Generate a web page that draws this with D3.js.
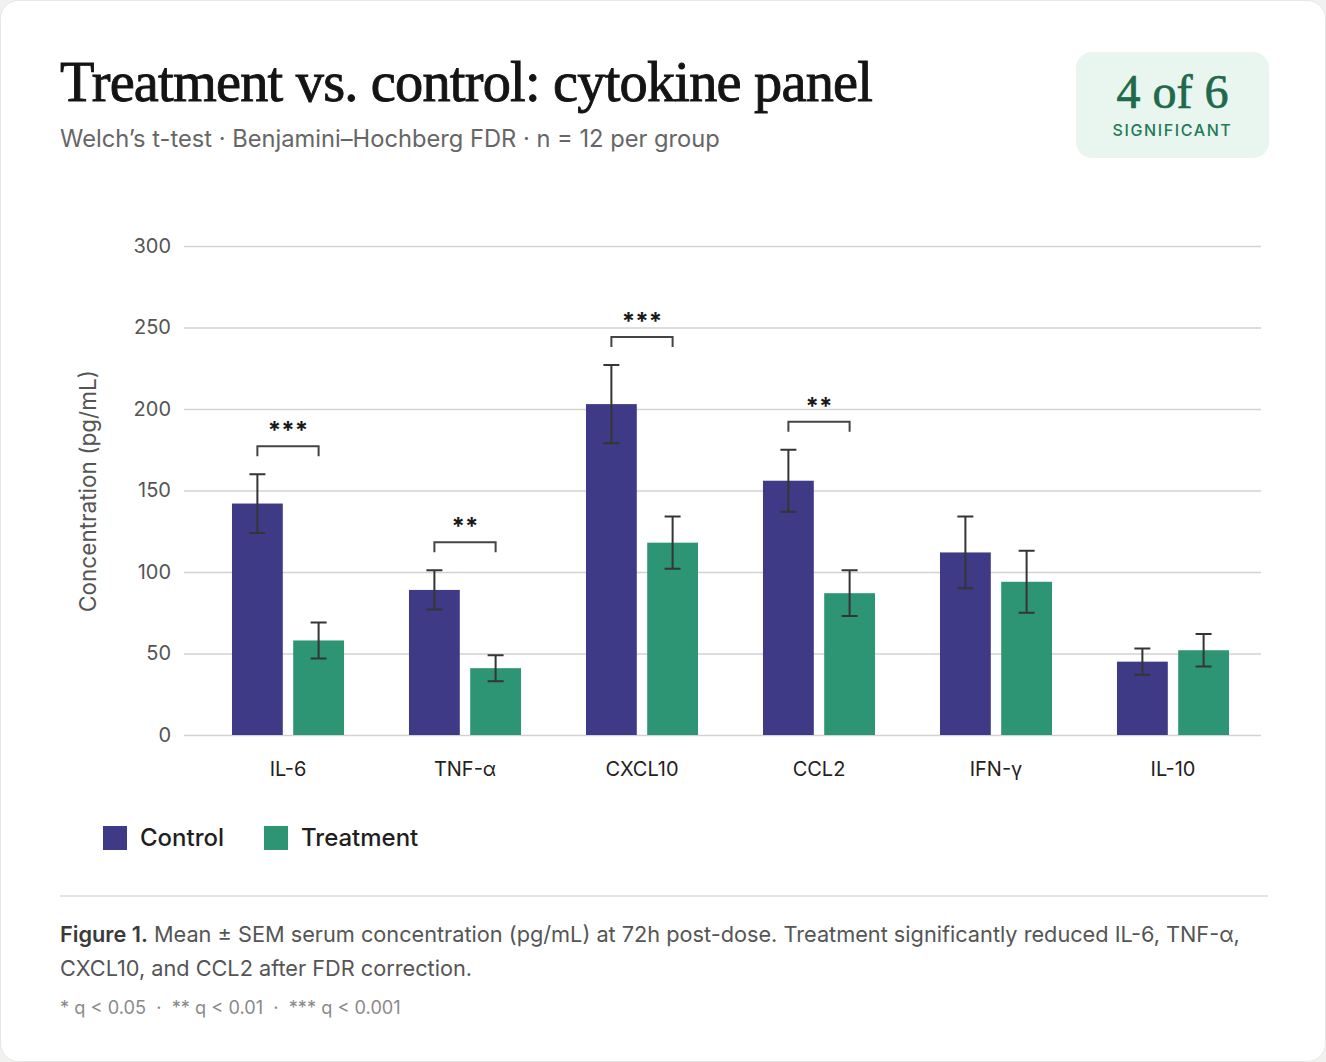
<!DOCTYPE html>
<html lang="en">
<head>
<meta charset="utf-8">
<title>Treatment vs. control: cytokine panel</title>
<style>
  body { margin: 0; background: #f1f1f0; }
  svg { display: block; }
</style>
</head>
<body>
<script src="https://d3js.org/d3.v7.min.js"></script>
<script>
// cytokines along the x axis
var cytokines = ["IL-6", "TNF-α", "CXCL10", "CCL2", "IFN-γ", "IL-10"];
var groups = ["Control", "Treatment"];
// mean concentration (pg/mL)
var controlMean = [142, 89, 203, 156, 112, 45];
var treatmentMean = [58, 41, 118, 87, 94, 52];
// SEM
var controlSem = [18, 12, 24, 19, 22, 8];
var treatmentSem = [11, 8, 16, 14, 19, 10];
// significance after FDR correction ("" = not significant)
var stars = ["***", "**", "***", "**", "", ""];
var yTicks = [0, 50, 100, 150, 200, 250, 300];

var W = 1326, H = 1062;
var sans = "Inter, 'Noto Sans', sans-serif";
var serif = "'Liberation Serif', 'DejaVu Serif', serif";
var colors = {Control: "#3e3a86", Treatment: "#2e9574"};

var svg = d3.select("body").append("svg")
  .attr("width", W)
  .attr("height", H);

// white card
svg.append("rect")
  .attr("x", 0.5).attr("y", 0.5)
  .attr("width", W - 1).attr("height", H - 1)
  .attr("rx", 18)
  .attr("fill", "#fff")
  .attr("stroke", "#e6e6e6");

// shrink / grow font-size so a text spans a given width
function fit(sel, width) {
  var fs = parseFloat(sel.attr("font-size"));
  var w = sel.node().getComputedTextLength();
  sel.attr("font-size", (fs * width / w).toFixed(2));
  return sel;
}

// title + subtitle (regular serif with a hairline stroke ~ medium weight)
fit(svg.append("text")
  .attr("x", 60).attr("y", 101)
  .attr("font-family", serif)
  .attr("font-size", 52)
  .attr("letter-spacing", -0.8)
  .attr("fill", "#141414")
  .attr("stroke", "#141414")
  .attr("stroke-width", 0.9)
  .text("Treatment vs. control: cytokine panel"), 810);

fit(svg.append("text")
  .attr("x", 60).attr("y", 147)
  .attr("font-family", sans)
  .attr("font-size", 23)
  .attr("fill", "#666")
  .text("Welch’s t-test · Benjamini–Hochberg FDR · n = 12 per group"), 660);

// badge
var nSig = stars.filter(function(s) { return s !== ""; }).length;
var badge = svg.append("g").attr("transform", "translate(1076,52)");
badge.append("rect")
  .attr("width", 193).attr("height", 106)
  .attr("rx", 16)
  .attr("fill", "#e9f6f0");
badge.append("text")
  .attr("x", 96.5).attr("y", 56)
  .attr("text-anchor", "middle")
  .attr("font-family", serif)
  .attr("font-size", 48)
  .attr("fill", "#1e6a4b")
  .attr("stroke", "#1e6a4b")
  .attr("stroke-width", 0.7)
  .text(nSig + " of " + cytokines.length);
badge.append("text")
  .attr("x", 96.5).attr("y", 84)
  .attr("text-anchor", "middle")
  .attr("font-family", sans)
  .attr("font-size", 16)
  .attr("font-weight", 500)
  .attr("letter-spacing", 1.6)
  .attr("fill", "#237a56")
  .text("SIGNIFICANT");

// scales
var y = d3.scaleLinear().domain([0, 300]).range([735, 246]);
var x0 = d3.scaleBand()
  .domain(cytokines)
  .range([199.5, 1261.5])
  .paddingInner(0.367)
  .paddingOuter(0.1835);
var x1 = d3.scaleBand()
  .domain(groups)
  .range([0, x0.bandwidth()])
  .paddingInner(0.17);

// grid + y axis
var yAxis = svg.append("g")
  .attr("transform", "translate(184,0)")
  .call(d3.axisLeft(y).tickValues(yTicks).tickSize(-(1261 - 184)).tickPadding(13));
yAxis.select(".domain").remove();
yAxis.selectAll("line").attr("stroke", "#d2d2d0").attr("stroke-width", 1.6);
yAxis.selectAll("text")
  .attr("font-family", sans)
  .attr("font-size", 20)
  .attr("fill", "#555");

fit(svg.append("text")
  .attr("transform", "translate(96,491) rotate(-90)")
  .attr("text-anchor", "middle")
  .attr("font-family", sans)
  .attr("font-size", 21)
  .attr("fill", "#555")
  .text("Concentration (pg/mL)"), 242);

// bars
var rows = cytokines.map(function(c, i) {
  return {
    name: c,
    stars: stars[i],
    vals: [
      {group: "Control", mean: controlMean[i], sem: controlSem[i]},
      {group: "Treatment", mean: treatmentMean[i], sem: treatmentSem[i]}
    ]
  };
});

var cat = svg.selectAll(".cat")
  .data(rows)
  .enter()
  .append("g")
    .attr("class", "cat")
    .attr("transform", function(d) { return "translate(" + x0(d.name) + ",0)"; });

var bar = cat.selectAll(".bar")
  .data(function(d) { return d.vals; })
  .enter()
  .append("g")
    .attr("class", "bar");

bar.append("rect")
  .attr("x", function(d) { return x1(d.group); })
  .attr("y", function(d) { return y(d.mean); })
  .attr("width", x1.bandwidth())
  .attr("height", function(d) { return y(0) - y(d.mean); })
  .attr("fill", function(d) { return colors[d.group]; });

// error bars
var cx = function(d) { return x1(d.group) + x1.bandwidth() / 2; };
bar.append("path")
  .attr("d", function(d) {
    var c = cx(d), t = y(d.mean + d.sem), b = y(d.mean - d.sem);
    return "M" + c + "," + t + "V" + b +
      "M" + (c - 8) + "," + t + "H" + (c + 8) +
      "M" + (c - 8) + "," + b + "H" + (c + 8);
  })
  .attr("fill", "none")
  .attr("stroke", "#353535")
  .attr("stroke-width", 2);

// significance brackets, 28px above the highest error bar
function errTop(d) {
  return d3.min(d.vals, function(v) { return y(v.mean + v.sem); });
}
var sig = cat.filter(function(d) { return d.stars !== ""; });
sig.append("path")
  .attr("d", function(d) {
    var top = errTop(d) - 28;
    var a = x1("Control") + x1.bandwidth() / 2,
        b = x1("Treatment") + x1.bandwidth() / 2;
    return "M" + a + "," + (top + 10) + "V" + top + "H" + b + "V" + (top + 10);
  })
  .attr("fill", "none")
  .attr("stroke", "#444")
  .attr("stroke-width", 2);
sig.append("text")
  .attr("x", x0.bandwidth() / 2)
  .attr("y", function(d) { return errTop(d) - 35; })
  .attr("text-anchor", "middle")
  .attr("font-family", sans)
  .attr("font-size", 24)
  .attr("font-weight", 700)
  .attr("fill", "#1a1a1a")
  .text(function(d) { return d.stars; });

// x axis labels
var xAxis = svg.append("g")
  .attr("transform", "translate(0,735)")
  .call(d3.axisBottom(x0).tickSize(0).tickPadding(27));
xAxis.select(".domain").remove();
xAxis.selectAll("text")
  .attr("font-family", sans)
  .attr("font-size", 20)
  .attr("fill", "#222");

// legend
var legend = svg.selectAll(".legend")
  .data(groups)
  .enter()
  .append("g")
    .attr("class", "legend")
    .attr("transform", function(d, i) { return "translate(" + (103 + i * 161) + ",826)"; });
legend.append("rect")
  .attr("width", 24).attr("height", 24)
  .attr("fill", function(d) { return colors[d]; });
legend.append("text")
  .attr("x", 37).attr("y", 20)
  .attr("font-family", sans)
  .attr("font-size", 24)
  .attr("font-weight", 500)
  .attr("fill", "#1f1f1f")
  .text(function(d) { return d; });

// caption
svg.append("line")
  .attr("x1", 60).attr("x2", 1268)
  .attr("y1", 896).attr("y2", 896)
  .attr("stroke", "#e4e4e4")
  .attr("stroke-width", 2);

var cap1 = svg.append("text")
  .attr("x", 60).attr("y", 942)
  .attr("font-family", sans)
  .attr("font-size", 21)
  .attr("fill", "#555");
cap1.append("tspan").attr("font-weight", 600).attr("fill", "#3a3a3a").text("Figure 1.");
cap1.append("tspan").text(" Mean ± SEM serum concentration (pg/mL) at 72h post-dose. Treatment significantly reduced IL-6, TNF-α,");
fit(cap1, 1180);

svg.append("text")
  .attr("x", 60).attr("y", 976)
  .attr("font-family", sans)
  .attr("font-size", cap1.attr("font-size"))
  .attr("fill", "#555")
  .text("CXCL10, and CCL2 after FDR correction.");

fit(svg.append("text")
  .attr("x", 60).attr("y", 1014)
  .attr("font-family", sans)
  .attr("font-size", 18)
  .attr("fill", "#8a8a8a")
  .attr("xml:space", "preserve")
  .text("* q < 0.05  ·  ** q < 0.01  ·  *** q < 0.001"), 341);
</script>
</body>
</html>
